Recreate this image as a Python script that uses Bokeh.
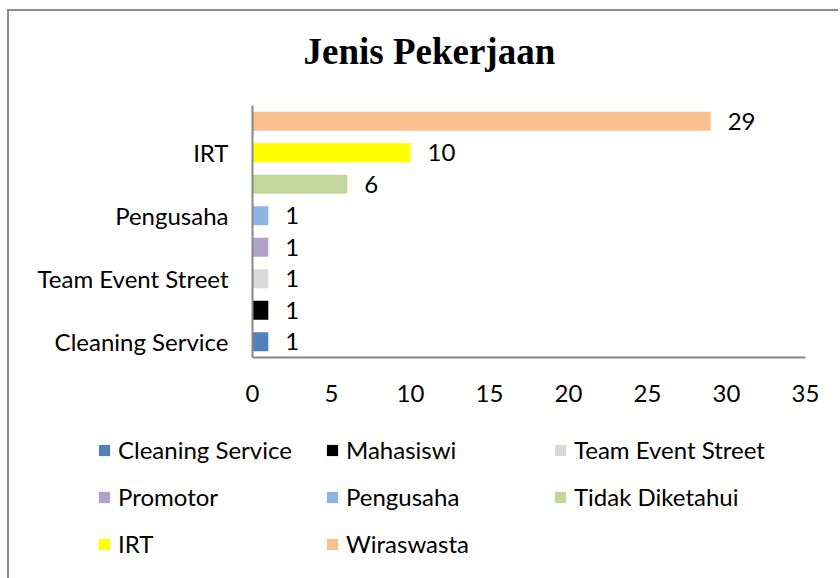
from bokeh.plotting import figure
from bokeh.models import (ColumnDataSource, LabelSet, Label, Legend, LegendItem,
                          Range1d, FixedTicker)
from bokeh.core.properties import value
from bokeh.embed import file_html
from bokeh.resources import INLINE

categories = ["Cleaning Service", "Mahasiswi", "Team Event Street", "Promotor",
              "Pengusaha", "Tidak Diketahui", "IRT", "Wiraswasta"]
values = [1, 1, 1, 1, 1, 6, 10, 29]
colors = ["#4F81BD", "#000000", "#D9D9D9", "#B3A2C7",
          "#8EB4E3", "#C3D69B", "#FFFF00", "#FAC090"]
shown_labels = ["Cleaning Service", "Team Event Street", "Pengusaha", "IRT"]
x_ticks = [0, 5, 10, 15, 20, 25, 30, 35]
title_text = "Jenis Pekerjaan"

FONT = "Lato"
FS = "24px"
BORDER = "2px solid #8c8c8c"

ypos = list(range(len(categories)))
src = ColumnDataSource(dict(cat=categories, y=ypos, val=values, color=colors,
                            label=[str(v) for v in values]))

# title strip (pixel-scaled ranges)
t = figure(width=831, height=81, x_range=Range1d(0, 831), y_range=Range1d(0, 79),
           output_backend="svg", toolbar_location=None, title=None,
           x_axis_type=None, y_axis_type=None, min_border=0)
t.margin = (9, 0, 0, 7)
t.styles = {"border-left": BORDER, "border-top": BORDER}
t.xgrid.grid_line_color = None
t.ygrid.grid_line_color = None
t.outline_line_color = None
t.add_layout(Label(x=294, y=40, text=title_text, text_font="Liberation Serif",
                   text_font_style="bold", text_font_size="37px",
                   text_color="black", text_baseline="alphabetic"))

# main chart
p = figure(width=831, height=325,
           y_range=Range1d(-0.5, len(categories) - 0.5),
           x_range=Range1d(0, 35),
           output_backend="svg", toolbar_location=None,
           min_border_left=243, min_border_right=35,
           min_border_top=15, min_border_bottom=58)
p.margin = (0, 0, 0, 7)
p.styles = {"border-left": BORDER}

r = p.hbar(y="y", right="val", left=0, height=0.6, fill_color="color",
           line_color=None, source=src)

labels = LabelSet(x="val", y="y", text="label", source=src, x_offset=17,
                  text_baseline="middle", text_font=value(FONT),
                  text_font_size=FS, text_color="black")
p.add_layout(labels)

p.xaxis.ticker = FixedTicker(ticks=x_ticks)
p.yaxis.ticker = FixedTicker(ticks=[categories.index(c) for c in shown_labels])
p.yaxis.major_label_overrides = {categories.index(c): c for c in shown_labels}
for ax in (p.xaxis, p.yaxis):
    ax.axis_line_color = "#868686"
    ax.axis_line_width = 2
    ax.major_tick_line_color = None
    ax.minor_tick_line_color = None
    ax.major_label_text_font = FONT
    ax.major_label_text_font_size = FS
    ax.major_label_text_color = "black"
p.xaxis.major_label_standoff = 21
p.yaxis.major_label_standoff = 18

p.xgrid.grid_line_color = None
p.ygrid.grid_line_color = None
p.outline_line_color = None

# legend panel (separate root, stacked below)
q = figure(width=831, height=163, x_range=Range1d(1000, 1001), y_range=Range1d(100, 101),
           output_backend="svg", toolbar_location=None,
           x_axis_type=None, y_axis_type=None,
           min_border=0)
q.margin = (0, 0, 0, 7)
q.styles = {"border-left": BORDER}
q.xgrid.grid_line_color = None
q.ygrid.grid_line_color = None
q.outline_line_color = None
r2 = q.hbar(y="y", right="val", left=0, height=0.6, fill_color="color",
            line_color=None, source=src)

items = [LegendItem(label=c, renderers=[r2], index=i) for i, c in enumerate(categories)]
legend = Legend(items=items, location=(88, 16), orientation="horizontal", ncols=3,
                glyph_width=14, glyph_height=14, label_width=197, label_height=37,
                label_standoff=7, spacing=10, padding=0, margin=0,
                border_line_color=None, background_fill_alpha=0,
                label_text_font=FONT, label_text_font_size=FS, label_text_color="black")
q.add_layout(legend)

open("out.html", "w").write(file_html([t, p, q], INLINE))
